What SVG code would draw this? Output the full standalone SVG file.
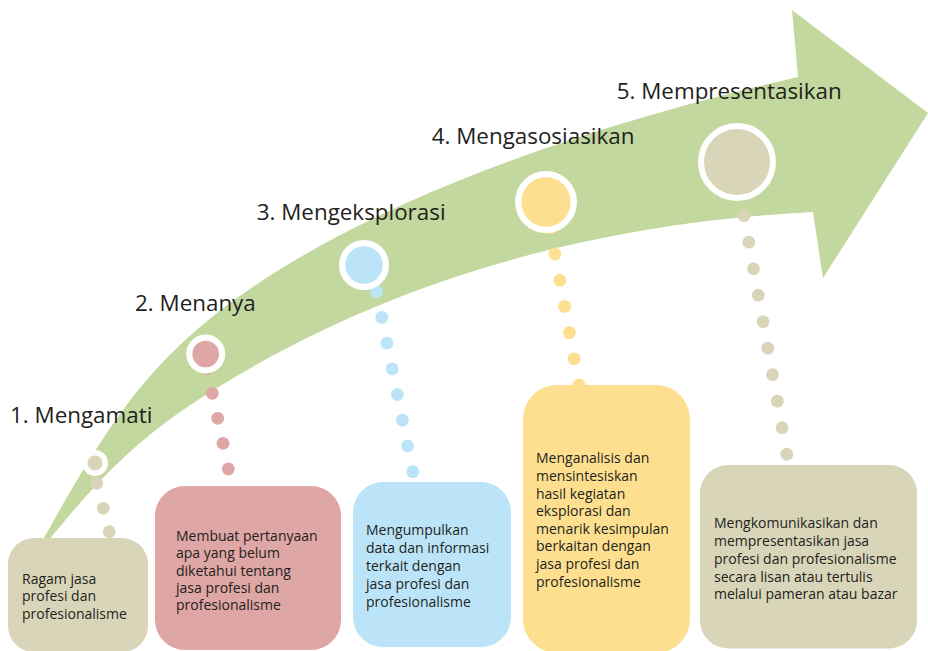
<svg xmlns="http://www.w3.org/2000/svg" width="928" height="651" viewBox="0 0 928 651">
<style>
.lbl{font-family:"Open Sans","Liberation Sans",sans-serif;font-size:22.4px;fill:#231f20}
.txt{font-family:"Open Sans","Liberation Sans",sans-serif;font-size:14px;fill:#231f20}
.ring{stroke:#ffffff}
.c1{fill:#d9d5b8}.c2{fill:#dfa6a6}.c3{fill:#bce4f8}.c4{fill:#fddf8f}.c5{fill:#d9d5b8}
</style>
<rect x="0" y="0" width="928" height="651" fill="#ffffff"/>
<path id="arrow" d="M 40 545 C 110 419, 147 369, 217 313 C 377 188, 638 114, 798 77 L 792 10 L 928 113 L 823 278 L 813 212 C 623 222, 420 266, 230 380 C 160 422, 115 457, 45 545 Z" fill="#c2d89e"/>
<g id="connectors">
  <g class="c1">
    <circle cx="96.7" cy="483.3" r="6.4"/><circle cx="103.3" cy="508.3" r="6.4"/><circle cx="109.3" cy="531.7" r="6.4"/>
  </g>
  <g class="c2">
    <circle cx="207" cy="368.5" r="6.4"/><circle cx="212.3" cy="393.3" r="6.4"/><circle cx="217.7" cy="418.3" r="6.4"/><circle cx="223" cy="443.3" r="6.4"/><circle cx="228.3" cy="469" r="6.4"/>
  </g>
  <g class="c3">
    <circle cx="376.7" cy="291.7" r="6.4"/><circle cx="381.8" cy="317.4" r="6.4"/><circle cx="387" cy="343.1" r="6.4"/><circle cx="392.1" cy="368.8" r="6.4"/><circle cx="397.3" cy="394.5" r="6.4"/><circle cx="402.4" cy="420.2" r="6.4"/><circle cx="407.5" cy="445.9" r="6.4"/><circle cx="412.7" cy="471.6" r="6.4"/>
  </g>
  <g class="c4">
    <circle cx="550.2" cy="227.8" r="6.4"/><circle cx="555" cy="254" r="6.4"/><circle cx="559.8" cy="280.2" r="6.4"/><circle cx="564.6" cy="306.4" r="6.4"/><circle cx="569.4" cy="332.6" r="6.4"/><circle cx="574.2" cy="358.8" r="6.4"/><circle cx="579" cy="385" r="6.4"/>
  </g>
  <g class="c5">
    <circle cx="744" cy="215.7" r="6.4"/><circle cx="748.8" cy="242.2" r="6.4"/><circle cx="753.5" cy="268.7" r="6.4"/><circle cx="758.3" cy="295.2" r="6.4"/><circle cx="763" cy="321.7" r="6.4"/><circle cx="767.8" cy="348.2" r="6.4"/><circle cx="772.5" cy="374.7" r="6.4"/><circle cx="777.3" cy="401.2" r="6.4"/><circle cx="782" cy="427.7" r="6.4"/><circle cx="786.8" cy="454.2" r="6.4"/>
  </g>
</g>
<g id="step1">
  <circle class="c1 ring" cx="95" cy="463" r="10.3" stroke-width="5.5"/>
  <text class="lbl" x="10" y="423">1. Mengamati</text>
  <rect class="c1" x="8" y="538" width="140" height="114" rx="26"/>
  <text class="txt" x="22" y="583.5">Ragam jasa</text>
  <text class="txt" x="22" y="601.2">profesi dan</text>
  <text class="txt" x="22" y="618.9">profesionalisme</text>
</g>
<g id="step2">
  <circle class="c2 ring" cx="205.7" cy="354" r="16.4" stroke-width="6.2"/>
  <text class="lbl" x="135" y="311">2. Menanya</text>
  <rect class="c2" x="155" y="486" width="186" height="164" rx="30"/>
  <text class="txt" x="176" y="540.7">Membuat pertanyaan</text>
  <text class="txt" x="176" y="558.1">apa yang belum</text>
  <text class="txt" x="176" y="575.5">diketahui tentang</text>
  <text class="txt" x="176" y="592.9">jasa profesi dan</text>
  <text class="txt" x="176" y="610.3">profesionalisme</text>
</g>
<g id="step3">
  <circle class="c3 ring" cx="364" cy="265" r="21.9" stroke-width="6.3"/>
  <text class="lbl" x="256.7" y="220">3. Mengeksplorasi</text>
  <rect class="c3" x="353" y="482" width="158" height="165" rx="30"/>
  <text class="txt" x="366" y="535">Mengumpulkan</text>
  <text class="txt" x="366" y="552.9">data dan informasi</text>
  <text class="txt" x="366" y="570.8">terkait dengan</text>
  <text class="txt" x="366" y="588.7">jasa profesi dan</text>
  <text class="txt" x="366" y="606.6">profesionalisme</text>
</g>
<g id="step4">
  <circle class="c4 ring" cx="546" cy="202" r="27.8" stroke-width="6.3"/>
  <text class="lbl" x="431.7" y="144">4. Mengasosiasikan</text>
  <rect class="c4" x="523" y="385" width="167" height="268" rx="34"/>
  <text class="txt" x="536" y="463.3">Menganalisis dan</text>
  <text class="txt" x="536" y="480.9">mensintesiskan</text>
  <text class="txt" x="536" y="498.5">hasil kegiatan</text>
  <text class="txt" x="536" y="516.1">eksplorasi dan</text>
  <text class="txt" x="536" y="533.7">menarik kesimpulan</text>
  <text class="txt" x="536" y="551.3">berkaitan dengan</text>
  <text class="txt" x="536" y="568.9">jasa profesi dan</text>
  <text class="txt" x="536" y="586.5">profesionalisme</text>
</g>
<g id="step5">
  <circle class="c5 ring" cx="737" cy="162" r="36" stroke-width="6"/>
  <text class="lbl" x="616.7" y="99.3">5. Mempresentasikan</text>
  <rect class="c5" x="700" y="465" width="217" height="183.5" rx="28"/>
  <text class="txt" x="714" y="528.3">Mengkomunikasikan dan</text>
  <text class="txt" x="714" y="546">mempresentasikan jasa</text>
  <text class="txt" x="714" y="563.8">profesi dan profesionalisme</text>
  <text class="txt" x="714" y="581.5">secara lisan atau tertulis</text>
  <text class="txt" x="714" y="599.3">melalui pameran atau bazar</text>
</g>
</svg>
